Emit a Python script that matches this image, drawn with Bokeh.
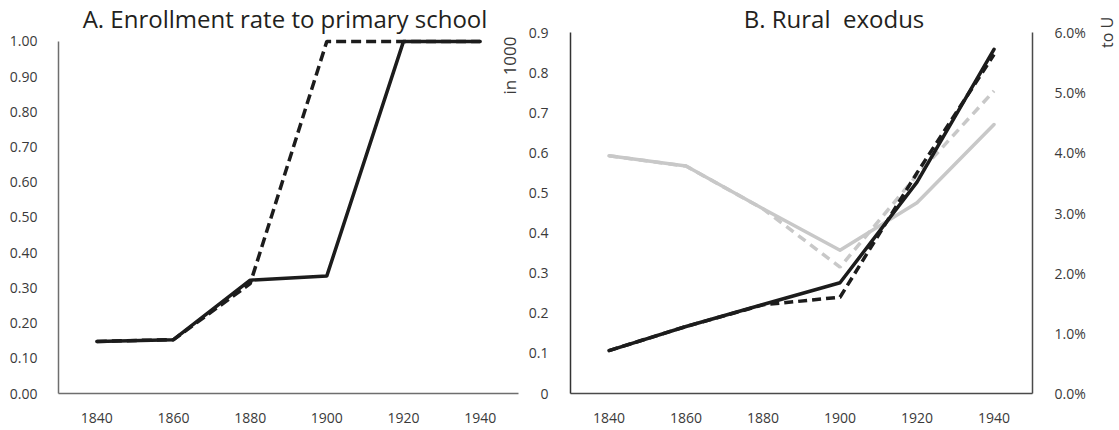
import math
from bokeh.plotting import figure
from bokeh.layouts import row
from bokeh.models import Range1d, LinearAxis, FixedTicker, Label
from bokeh.embed import file_html
from bokeh.resources import INLINE

# ---------------- data ----------------
years = [1840, 1860, 1880, 1900, 1920, 1940]
year_labels = ["1840", "1860", "1880", "1900", "1920", "1940"]

enroll_solid = [0.148, 0.153, 0.322, 0.334, 1.0, 1.0]
enroll_dashed = [0.148, 0.153, 0.312, 1.0, 1.0, 1.0]
a_ticks = [0.0, 0.1, 0.2, 0.3, 0.4, 0.5, 0.6, 0.7, 0.8, 0.9, 1.0]
a_tick_labels = ["0.00", "0.10", "0.20", "0.30", "0.40", "0.50",
                 "0.60", "0.70", "0.80", "0.90", "1.00"]

exodus_black_solid = [0.107, 0.167, 0.222, 0.276, 0.527, 0.858]
exodus_black_dashed = [0.107, 0.167, 0.221, 0.240, 0.550, 0.845]
exodus_grey_solid = [0.0395, 0.0378, 0.0307, 0.0238, 0.0317, 0.0447]
exodus_grey_dashed = [0.0395, 0.0378, 0.0307, 0.0210, 0.0363, 0.0503]
b_left_ticks = [0.0, 0.1, 0.2, 0.3, 0.4, 0.5, 0.6, 0.7, 0.8, 0.9]
b_left_labels = ["0", "0.1", "0.2", "0.3", "0.4", "0.5", "0.6", "0.7", "0.8", "0.9"]
b_right_ticks = [0.0, 0.01, 0.02, 0.03, 0.04, 0.05, 0.06]
b_right_labels = ["0.0%", "1.0%", "2.0%", "3.0%", "4.0%", "5.0%", "6.0%"]

FONT = "Open Sans"
TICK_COLOR = "#3a3a3a"
TITLE_COLOR = "#231f20"
BLACK = "#1c1c1c"
GREY = "#c8c8c8"

# layout geometry (pixels): frames reach the top edge so titles can sit inside them
A_PLOT_TOP, A_FRAME_H, A_FRAME_W, A_AXIS_W = 41, 394, 467, 460
B_PLOT_TOP, B_FRAME_H = 32, 393


def style_axis(ax, color, ticks, labels, standoff, bounds):
    ax.ticker = FixedTicker(ticks=ticks)
    ax.major_label_overrides = {t: l for t, l in zip(ticks, labels)}
    ax.bounds = bounds
    ax.major_tick_line_color = None
    ax.minor_tick_line_color = None
    ax.axis_line_color = color
    ax.axis_line_width = 1.5
    ax.major_label_text_font = FONT
    ax.major_label_text_font_size = "14px"
    ax.major_label_text_color = TICK_COLOR
    ax.major_label_standoff = standoff


def title_label(x, y, text):
    return Label(x=x, y=y, x_units="screen", y_units="screen", text=text,
                 text_font=FONT, text_font_size="24px", text_color=TITLE_COLOR,
                 text_align="center", text_baseline="alphabetic")


# ---------------- panel A ----------------
a_ytop = 1.0 * A_FRAME_H / (A_FRAME_H - A_PLOT_TOP)
a_xend = 1830 + 120 * A_FRAME_W / A_AXIS_W
pa = figure(width=525, height=430, output_backend="svg", toolbar_location=None,
            x_range=Range1d(1830, a_xend), y_range=Range1d(0, a_ytop),
            min_border_left=58, min_border_right=0, min_border_top=0,
            min_border_bottom=36)
pa.outline_line_color = None
pa.grid.visible = False
pa.background_fill_color = "white"
pa.border_fill_color = "white"
style_axis(pa.xaxis[0], "#6e6e6e", years, year_labels, 13, (1830, 1950))
style_axis(pa.yaxis[0], "#6e6e6e", a_ticks, a_tick_labels, 15, (0, 1.0))

pa.line(years, enroll_dashed, line_color=BLACK, line_width=3.5, line_dash="10 5")
pa.line(years, enroll_solid, line_color=BLACK, line_width=3.5,
        line_cap="round", line_join="round")

pa.add_layout(title_label(226.5, 375, "A. Enrollment rate to primary school"))
pa.add_layout(Label(x=451, y=328, x_units="screen", y_units="screen",
                    text="in 1000", angle=math.pi / 2,
                    text_font=FONT, text_font_size="17px", text_color=TICK_COLOR,
                    text_align="center", text_baseline="middle"))

# ---------------- panel B ----------------
b_scale = B_FRAME_H / (B_FRAME_H - B_PLOT_TOP)
pb = figure(width=570, height=430, output_backend="svg", toolbar_location=None,
            x_range=Range1d(1830, 1950), y_range=Range1d(0, 0.9 * b_scale),
            min_border_left=43, min_border_right=63, min_border_top=0,
            min_border_bottom=37)
pb.outline_line_color = None
pb.grid.visible = False
pb.background_fill_color = "white"
pb.border_fill_color = "white"
pb.extra_y_ranges = {"pct": Range1d(0, 0.06 * b_scale)}
raxis = LinearAxis(y_range_name="pct")
pb.add_layout(raxis, "right")
style_axis(pb.xaxis[0], "#4a4a4a", years, year_labels, 13, (1830, 1950))
style_axis(pb.yaxis[0], "#333333", b_left_ticks, b_left_labels, 16, (0, 0.9))
style_axis(raxis, "#4a4a4a", b_right_ticks, b_right_labels, 16, (0, 0.06))

pb.line(years, exodus_grey_dashed, y_range_name="pct", line_color=GREY,
        line_width=3.5, line_dash="9 6")
pb.line(years, exodus_grey_solid, y_range_name="pct", line_color=GREY,
        line_width=3.5, line_cap="round", line_join="round")
pb.line(years, exodus_black_dashed, line_color=BLACK, line_width=3.5, line_dash="9 5")
pb.line(years, exodus_black_solid, line_color=BLACK, line_width=3.5,
        line_cap="round", line_join="round")

pb.add_layout(title_label(263.5, 375, "B. Rural\u00a0 exodus"))

# ---------------- narrow strip at the right edge for the "to U" label ----------------
pc = figure(width=24, height=430, output_backend="svg", toolbar_location=None,
            title=None, x_axis_location=None, y_axis_location=None,
            x_range=Range1d(0, 24), y_range=Range1d(0, 430),
            min_border_left=0, min_border_right=0, min_border_top=0,
            min_border_bottom=0)
pc.outline_line_color = None
pc.grid.visible = False
pc.background_fill_color = "white"
pc.border_fill_color = "white"
pc.add_layout(Label(x=11, y=395, text="to U", angle=math.pi / 2,
                    text_font=FONT, text_font_size="16px", text_color=TICK_COLOR,
                    text_align="center", text_baseline="middle"))

layout = row(pa, pb, pc, spacing=0)
open("out.html", "w").write(file_html(layout, INLINE))
